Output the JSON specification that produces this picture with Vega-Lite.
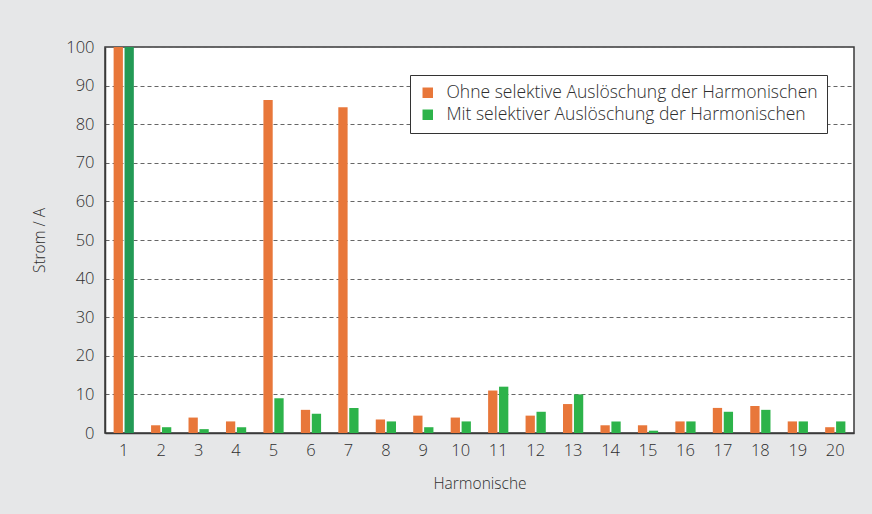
{
  "$schema": "https://vega.github.io/schema/vega-lite/v6.json",
  "autosize": {"type": "none"},
  "padding": {"left": 105, "top": 47, "right": 18, "bottom": 81},
  "width": 749,
  "height": 386,
  "background": "#e6e7e8",
  "config": {
    "font": "Open Sans",
    "view": {"fill": "white", "stroke": "#3a3a3a", "strokeWidth": 1.5},
    "axis": {"labelFont": "Open Sans", "titleFont": "Open Sans", "labelColor": "#2e2e2e", "titleColor": "#2e2e2e", "titleFontWeight": 300, "labelFontWeight": 300, "titleFontSize": 15.5, "labelFontSize": 16.5}
  },
  "data": {"values": [
    {"h": 1, "serie": "Ohne", "gruppe": "Ohne selektive Auslöschung der Harmonischen", "wert": 100},
    {"h": 1, "serie": "Mit", "gruppe": "Grundschwingung mit selektiver Auslöschung", "wert": 100},
    {"h": 2, "serie": "Ohne", "gruppe": "Ohne selektive Auslöschung der Harmonischen", "wert": 2},
    {"h": 2, "serie": "Mit", "gruppe": "Mit selektiver Auslöschung der Harmonischen", "wert": 1.5},
    {"h": 3, "serie": "Ohne", "gruppe": "Ohne selektive Auslöschung der Harmonischen", "wert": 4},
    {"h": 3, "serie": "Mit", "gruppe": "Mit selektiver Auslöschung der Harmonischen", "wert": 1},
    {"h": 4, "serie": "Ohne", "gruppe": "Ohne selektive Auslöschung der Harmonischen", "wert": 3},
    {"h": 4, "serie": "Mit", "gruppe": "Mit selektiver Auslöschung der Harmonischen", "wert": 1.5},
    {"h": 5, "serie": "Ohne", "gruppe": "Ohne selektive Auslöschung der Harmonischen", "wert": 86.3},
    {"h": 5, "serie": "Mit", "gruppe": "Mit selektiver Auslöschung der Harmonischen", "wert": 9},
    {"h": 6, "serie": "Ohne", "gruppe": "Ohne selektive Auslöschung der Harmonischen", "wert": 6},
    {"h": 6, "serie": "Mit", "gruppe": "Mit selektiver Auslöschung der Harmonischen", "wert": 5},
    {"h": 7, "serie": "Ohne", "gruppe": "Ohne selektive Auslöschung der Harmonischen", "wert": 84.4},
    {"h": 7, "serie": "Mit", "gruppe": "Mit selektiver Auslöschung der Harmonischen", "wert": 6.5},
    {"h": 8, "serie": "Ohne", "gruppe": "Ohne selektive Auslöschung der Harmonischen", "wert": 3.5},
    {"h": 8, "serie": "Mit", "gruppe": "Mit selektiver Auslöschung der Harmonischen", "wert": 3},
    {"h": 9, "serie": "Ohne", "gruppe": "Ohne selektive Auslöschung der Harmonischen", "wert": 4.5},
    {"h": 9, "serie": "Mit", "gruppe": "Mit selektiver Auslöschung der Harmonischen", "wert": 1.5},
    {"h": 10, "serie": "Ohne", "gruppe": "Ohne selektive Auslöschung der Harmonischen", "wert": 4},
    {"h": 10, "serie": "Mit", "gruppe": "Mit selektiver Auslöschung der Harmonischen", "wert": 3},
    {"h": 11, "serie": "Ohne", "gruppe": "Ohne selektive Auslöschung der Harmonischen", "wert": 11},
    {"h": 11, "serie": "Mit", "gruppe": "Mit selektiver Auslöschung der Harmonischen", "wert": 12},
    {"h": 12, "serie": "Ohne", "gruppe": "Ohne selektive Auslöschung der Harmonischen", "wert": 4.5},
    {"h": 12, "serie": "Mit", "gruppe": "Mit selektiver Auslöschung der Harmonischen", "wert": 5.5},
    {"h": 13, "serie": "Ohne", "gruppe": "Ohne selektive Auslöschung der Harmonischen", "wert": 7.5},
    {"h": 13, "serie": "Mit", "gruppe": "Mit selektiver Auslöschung der Harmonischen", "wert": 10},
    {"h": 14, "serie": "Ohne", "gruppe": "Ohne selektive Auslöschung der Harmonischen", "wert": 2},
    {"h": 14, "serie": "Mit", "gruppe": "Mit selektiver Auslöschung der Harmonischen", "wert": 3},
    {"h": 15, "serie": "Ohne", "gruppe": "Ohne selektive Auslöschung der Harmonischen", "wert": 2},
    {"h": 15, "serie": "Mit", "gruppe": "Mit selektiver Auslöschung der Harmonischen", "wert": 0.6},
    {"h": 16, "serie": "Ohne", "gruppe": "Ohne selektive Auslöschung der Harmonischen", "wert": 3},
    {"h": 16, "serie": "Mit", "gruppe": "Mit selektiver Auslöschung der Harmonischen", "wert": 3},
    {"h": 17, "serie": "Ohne", "gruppe": "Ohne selektive Auslöschung der Harmonischen", "wert": 6.5},
    {"h": 17, "serie": "Mit", "gruppe": "Mit selektiver Auslöschung der Harmonischen", "wert": 5.5},
    {"h": 18, "serie": "Ohne", "gruppe": "Ohne selektive Auslöschung der Harmonischen", "wert": 7},
    {"h": 18, "serie": "Mit", "gruppe": "Mit selektiver Auslöschung der Harmonischen", "wert": 6},
    {"h": 19, "serie": "Ohne", "gruppe": "Ohne selektive Auslöschung der Harmonischen", "wert": 3},
    {"h": 19, "serie": "Mit", "gruppe": "Mit selektiver Auslöschung der Harmonischen", "wert": 3},
    {"h": 20, "serie": "Ohne", "gruppe": "Ohne selektive Auslöschung der Harmonischen", "wert": 1.5},
    {"h": 20, "serie": "Mit", "gruppe": "Mit selektiver Auslöschung der Harmonischen", "wert": 3}
  ]},
  "mark": {"type": "bar"},
  "encoding": {
    "x": {
      "field": "h", "type": "ordinal", "title": "Harmonische",
      "scale": {"paddingInner": 0.46, "paddingOuter": 0.23},
      "axis": {"labelAngle": 0, "ticks": false, "labelPadding": 9, "titlePadding": 18, "titleFontWeight": 300, "domainColor": "#3a3a3a", "domainWidth": 1.5}
    },
    "xOffset": {"field": "serie", "type": "nominal", "sort": ["Ohne", "Mit"], "scale": {"paddingInner": 0.15}},
    "y": {
      "field": "wert", "type": "quantitative", "title": "Strom / A",
      "scale": {"domain": [0, 100], "nice": false},
      "axis": {"values": [0, 10, 20, 30, 40, 50, 60, 70, 80, 90, 100], "ticks": false, "labelPadding": 11, "titlePadding": 18, "titleFontWeight": 300, "grid": true, "gridDash": [4, 3], "gridColor": "#666", "gridWidth": 1.2, "domainColor": "#3a3a3a", "domainWidth": 1.5}
    },
    "color": {
      "field": "gruppe", "type": "nominal",
      "scale": {
        "domain": ["Ohne selektive Auslöschung der Harmonischen", "Mit selektiver Auslöschung der Harmonischen", "Grundschwingung mit selektiver Auslöschung"],
        "range": ["#e8773a", "#2db34a", "#239a55"]
      },
      "legend": {
        "title": null,
        "values": ["Ohne selektive Auslöschung der Harmonischen", "Mit selektiver Auslöschung der Harmonischen"],
        "orient": "none", "legendX": 305, "legendY": 28,
        "fillColor": "white", "strokeColor": "#333",
        "padding": 9, "labelFontSize": 17.5, "labelFont": "Open Sans", "labelFontWeight": 300, "labelColor": "#2e2e2e",
        "symbolType": "square", "symbolSize": 110, "symbolStrokeWidth": 0, "rowPadding": 3, "labelLimit": 500, "labelOffset": 10
      }
    }
  }
}
